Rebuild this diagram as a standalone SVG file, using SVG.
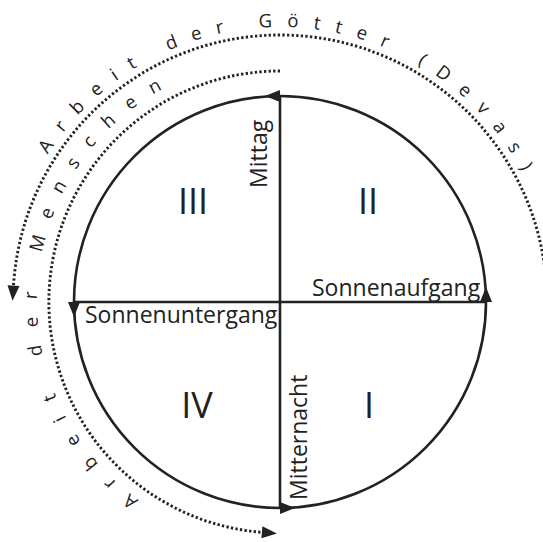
<svg xmlns="http://www.w3.org/2000/svg" width="543" height="542" viewBox="0 0 543 542">
  <style>
    .ln { fill: none; stroke: #222; stroke-width: 2.6; }
    .dot { fill: none; stroke: #222; stroke-width: 2.9; stroke-dasharray: 2.3 2.3; }
    .lbl { font-family: "Open Sans", "Liberation Sans", sans-serif; font-size: 23px; fill: #222; }
    .num { font-family: "Open Sans", "Liberation Sans", sans-serif; font-size: 36px; fill: #222; text-anchor: middle; }
    .arc { font-family: "Open Sans", "Liberation Sans", sans-serif; font-size: 18.5px; fill: #222; }
  </style>
  <defs>
    <marker id="arr" markerUnits="userSpaceOnUse" markerWidth="16" markerHeight="13" refX="0" refY="6" orient="auto" overflow="visible">
      <path d="M0,0 L15,6 L0,12 z" fill="#222"/>
    </marker>
    <path id="pOuter" d="M47.8,154.7 A275 275 0 0 1 552.3,263.7"/>
    <path id="pInner" d="M138.9,499.8 A243 243 0 0 1 196.9,73.6"/>
  </defs>

  <g id="connectors">
    <path class="ln" d="M486,302 A206 206 0 0 0 280,96" marker-end="url(#arr)"/>
    <path class="ln" d="M280,96 A206 206 0 0 0 74,302" marker-end="url(#arr)"/>
    <path class="ln" d="M74,302 A206 206 0 0 0 280,508" marker-end="url(#arr)"/>
    <path class="ln" d="M280,508 A206 206 0 0 0 486,302" marker-end="url(#arr)"/>
    <line class="ln" x1="280" y1="96" x2="280" y2="508"/>
    <line class="ln" x1="74" y1="302" x2="486" y2="302"/>
    <path class="dot" d="M544.4,264.8 A267 267 0 0 0 13.5,285.7" marker-end="url(#arr)"/>
    <path class="dot" d="M280,71 A231 231 0 0 0 261.9,532.3" marker-end="url(#arr)"/>
  </g>

  <g id="q1"><text class="num" x="369" y="418">I</text></g>
  <g id="q2"><text class="num" x="368" y="214">II</text></g>
  <g id="q3"><text class="num" x="193" y="214">III</text></g>
  <g id="q4"><text class="num" x="197" y="418">IV</text></g>

  <g id="sonnenaufgang"><text class="lbl" x="312" y="296">Sonnenaufgang</text></g>
  <g id="sonnenuntergang"><text class="lbl" x="85" y="323">Sonnenuntergang</text></g>
  <g id="mittag"><text class="lbl" transform="translate(267,188) rotate(-90)">Mittag</text></g>
  <g id="mitternacht"><text class="lbl" transform="translate(307,500) rotate(-90)">Mitternacht</text></g>

  <g id="goetter"><text class="arc" letter-spacing="14.9"><textPath href="#pOuter">Arbeit der Götter (Devas)</textPath></text></g>
  <g id="menschen"><text class="arc" letter-spacing="17.2"><textPath href="#pInner">Arbeit der Menschen</textPath></text></g>
</svg>
